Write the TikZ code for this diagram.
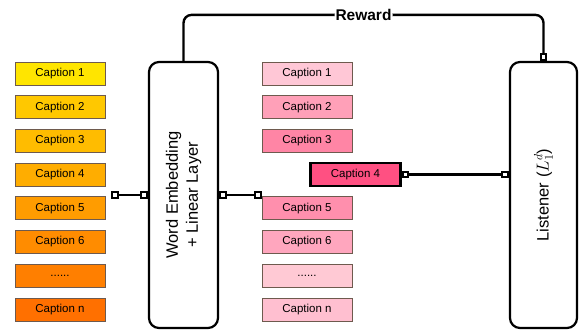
\documentclass[tikz,border=0pt]{standalone}
\usepackage{fontspec}
\setmainfont{Liberation Sans}
\usetikzlibrary{arrows.meta}
\def\P{33.7}
\def\Y{73.5}
\def\rowdots{......}
% left column: yellow to orange
\definecolor{lcA}{HTML}{FFE500}
\definecolor{lcB}{HTML}{FFC800}
\definecolor{lcC}{HTML}{FFBC00}
\definecolor{lcD}{HTML}{FFAD00}
\definecolor{lcE}{HTML}{FF9C00}
\definecolor{lcF}{HTML}{FF8C00}
\definecolor{lcG}{HTML}{FF7F00}
\definecolor{lcH}{HTML}{FF7000}
% middle column: pinks
\definecolor{mcA}{HTML}{FFC7D6}
\definecolor{mcB}{HTML}{FFA0B8}
\definecolor{mcC}{HTML}{FF85A5}
\definecolor{mcD}{HTML}{FF5082}
\definecolor{mcE}{HTML}{FF8FAD}
\definecolor{mcF}{HTML}{FFA6BE}
\definecolor{mcG}{HTML}{FFC9D4}
\definecolor{mcH}{HTML}{FFBFD0}
\definecolor{capline}{HTML}{6E5A4E}
\tikzset{port/.tip={Square[fill=white,length=7.5pt,width=7.5pt,line width=2pt]}}

\begin{document}
\begin{tikzpicture}[x=1pt,y=-1pt,
    capbox/.style={draw=capline,line width=0.8pt,minimum width=90pt,minimum height=23pt,
        inner sep=0pt,font=\fontsize{11.5}{13}\selectfont},
    bigbox/.style={draw,line width=2.2pt,rounded corners=10pt,minimum width=69pt,
        minimum height=266pt,inner sep=0pt},
    wire/.style={line width=2.4pt}]
\useasboundingbox (0,0) rectangle (583,329);
% caption columns
\foreach \i/\txt/\col in {1/Caption 1/lcA,2/Caption 2/lcB,3/Caption 3/lcC,4/Caption 4/lcD,
    5/Caption 5/lcE,6/Caption 6/lcF,7/\rowdots/lcG,8/Caption n/lcH}{
    \node[capbox,fill=\col] (l\i) at (60,\Y+\P*\i-\P) {\txt};
}
\foreach \i/\txt/\col in {1/Caption 1/mcA,2/Caption 2/mcB,3/Caption 3/mcC,
    5/Caption 5/mcE,6/Caption 6/mcF,7/\rowdots/mcG,8/Caption n/mcH}{
    \node[capbox,fill=\col] (m\i) at (307,\Y+\P*\i-\P) {\txt};
}
\node[capbox,fill=mcD,line width=2.6pt,draw=black] (sel) at (355.5,\Y+\P*3) {Caption 4};
% models
\node[bigbox] (we) at (183.5,195) {};
\node[rotate=90,align=center,font=\fontsize{16.5}{20}\selectfont] at (we.center)
    {Word Embedding\\+ Linear Layer};
\node[bigbox,minimum width=67pt] (lis) at (543.5,195) {};
\node[rotate=90,font=\fontsize{16.5}{20}\selectfont] at (lis.center) {Listener ($L_1^d$)};
% connections
\coordinate (in) at (111,195);
\coordinate (top) at ([yshift=46pt]we.north);
\draw[wire,port-port] (in) -- (we.west);
\draw[wire,port-port] (we.east) -- (we.east -| m5.west);
\draw[wire,port-port] (sel.east) -- (lis.west |- sel.east);
\draw[wire,rounded corners=8pt,-port] (we.north) -- (top) -- (top -| lis.north)
    node[pos=0.5,fill=white,inner sep=1pt,font=\fontsize{15.5}{18}\selectfont\bfseries] {Reward}
    -- (lis.north);
\end{tikzpicture}
\end{document}
